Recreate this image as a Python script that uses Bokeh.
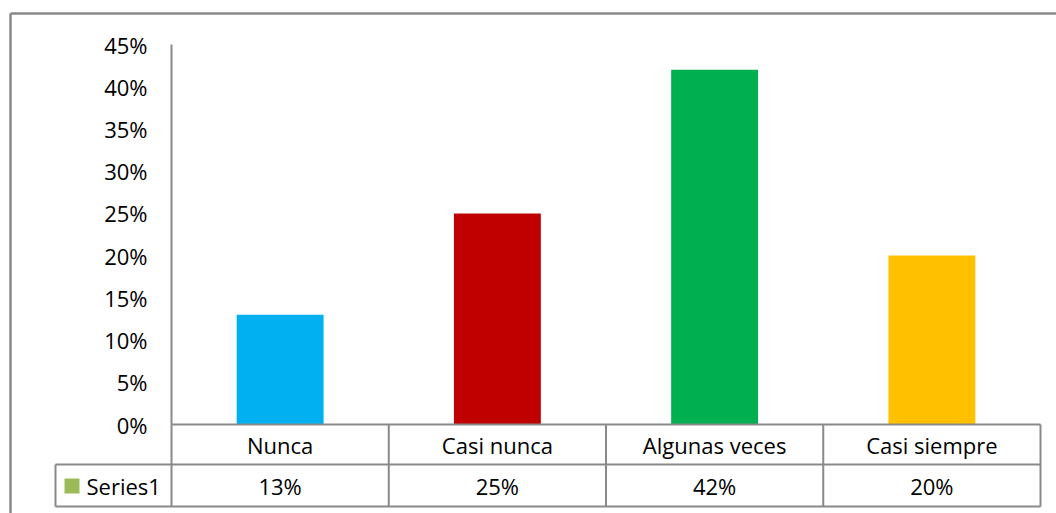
from bokeh.plotting import figure
from bokeh.models import Range1d, LinearAxis, FixedTicker, NumeralTickFormatter
from bokeh.core.properties import value
from bokeh.embed import file_html
from bokeh.resources import INLINE

# ---- data ----
categories = ["Nunca", "Casi nunca", "Algunas veces", "Casi siempre"]
values = [0.13, 0.25, 0.42, 0.20]
colors = ["#00B0F0", "#C00000", "#00B050", "#FFC000"]
series_name = "Series1"
y_ticks = [0.0, 0.05, 0.10, 0.15, 0.20, 0.25, 0.30, 0.35, 0.40, 0.45]

# ---- layout (pixels in figure coords) ----
W, H = 1056, 513
X0_PX = 171.0          # pixel column of category axis start
CAT_PX = 217.25        # pixel width of one category
Y0_PX = 424.0          # pixel row of 0%
UNIT_PX = 380.0 / 0.45 # pixels per unit (1.0 = 100%)

def fx(px):
    return (px - X0_PX) / CAT_PX

def fy(py):
    return (Y0_PX - py) / UNIT_PX

FONT = "Open Sans"
FS = "22px"
GRID = "#898989"
n = len(categories)
centers = [i + 0.5 for i in range(n)]

p = figure(width=W, height=H, output_backend="svg", toolbar_location=None,
           x_axis_location=None, y_axis_location=None,
           x_range=Range1d(fx(0), fx(W)), y_range=Range1d(fy(H), fy(0)),
           min_border=0, outline_line_color=None)
p.xgrid.visible = False
p.ygrid.visible = False
p.background_fill_color = "white"
p.border_fill_color = "white"

# bars
p.vbar(x=centers, top=values, bottom=0, width=0.4, color=colors, line_color=None)

# y axis
yaxis = LinearAxis(fixed_location=0, bounds=(0, max(y_ticks)),
                   ticker=FixedTicker(ticks=y_ticks),
                   formatter=NumeralTickFormatter(format="0%"))
yaxis.axis_line_color = GRID
yaxis.axis_line_width = 2
yaxis.major_tick_line_color = None
yaxis.minor_tick_line_color = None
yaxis.major_tick_out = 0
yaxis.major_label_standoff = 24
yaxis.major_label_text_font = FONT
yaxis.major_label_text_font_size = FS
yaxis.major_label_text_color = "black"
p.add_layout(yaxis, "left")

# x axis (category row of the data table)
xaxis = LinearAxis(fixed_location=0, bounds=(0, n),
                   ticker=FixedTicker(ticks=centers),
                   major_label_overrides={c: cat for c, cat in zip(centers, categories)})
xaxis.axis_line_color = GRID
xaxis.axis_line_width = 2
xaxis.major_tick_line_color = None
xaxis.minor_tick_line_color = None
xaxis.major_tick_out = 0
xaxis.major_label_standoff = 5
xaxis.major_label_text_font = FONT
xaxis.major_label_text_font_size = FS
xaxis.major_label_text_color = "black"
p.add_layout(xaxis, "below")

# data table grid
row1 = fy(464)
row2 = fy(506)
cell_left = fx(55)
x0s, y0s, x1s, y1s = [], [], [], []
# horizontal lines
x0s += [cell_left, cell_left]; x1s += [n, n]; y0s += [row1, row2]; y1s += [row1, row2]
# vertical lines at category boundaries
for i in range(n + 1):
    x0s.append(i); x1s.append(i); y0s.append(0); y1s.append(row2)
# left edge of legend cell
x0s.append(cell_left); x1s.append(cell_left); y0s.append(row1); y1s.append(row2)
p.segment(x0=x0s, y0=y0s, x1=x1s, y1=y1s, line_color=GRID, line_width=2)

# values row
row2_mid = fy(485.5)
p.text(x=centers, y=[row2_mid] * n, text=[f"{round(v * 100)}%" for v in values],
       text_font=value(FONT), text_font_size=FS, text_color="black",
       text_align="center", text_baseline="middle")

# legend key + series name
p.scatter(x=[fx(71.5)], y=[row2_mid], marker="square", size=15,
          color="#9BBB59", line_color=None)
p.text(x=[fx(86)], y=[row2_mid], text=[series_name],
       text_font=value(FONT), text_font_size=FS, text_color="black",
       text_align="left", text_baseline="middle")

# outer chart border (left and top)
bx, by = fx(10), fy(13)
p.segment(x0=[bx, bx], y0=[by, by], x1=[bx, fx(W)], y1=[fy(H), by],
          line_color=GRID, line_width=2.5)

open("out.html", "w").write(file_html(p, INLINE))
